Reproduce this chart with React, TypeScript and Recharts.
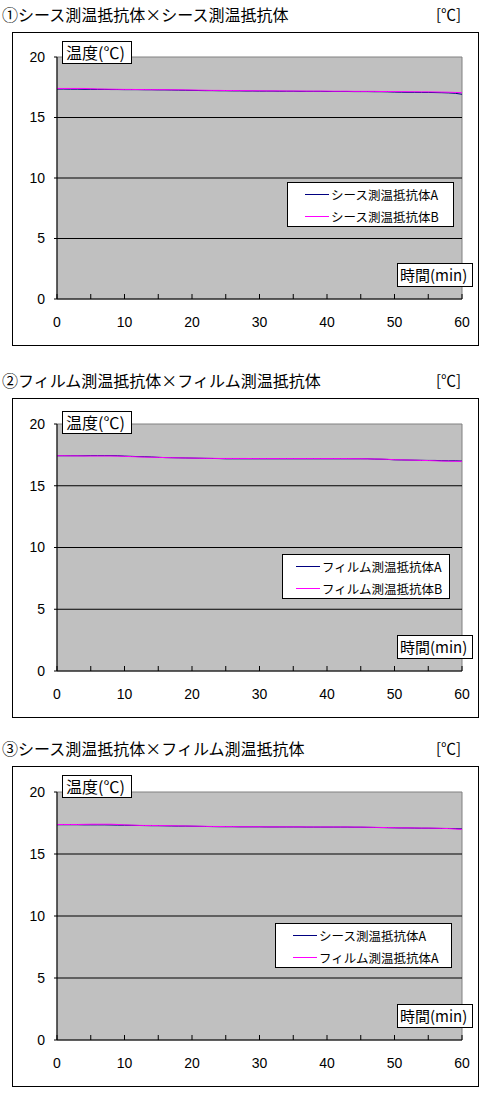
import { LineChart, Line, XAxis, YAxis, ReferenceArea, ReferenceLine } from 'recharts'

// minutes, one sample per minute
const minutes = Array.from({ length: 61 }, (_, i) => i)
const xTicks = [0, 5, 10, 15, 20, 25, 30, 35, 40, 45, 50, 55, 60]
const yTicks = [0, 5, 10, 15, 20]
const gridLevels = [5, 10, 15]

const sheathA1 = [
  17.35, 17.35, 17.34, 17.34, 17.33, 17.33, 17.32, 17.32, 17.31, 17.31,
  17.3, 17.3, 17.3, 17.29, 17.29, 17.28, 17.28, 17.27, 17.26, 17.25,
  17.24, 17.23, 17.22, 17.22, 17.21, 17.21, 17.2, 17.2, 17.19, 17.19,
  17.18, 17.18, 17.18, 17.17, 17.17, 17.17, 17.16, 17.16, 17.16, 17.16,
  17.15, 17.15, 17.15, 17.15, 17.14, 17.14, 17.14, 17.13, 17.13, 17.12,
  17.1, 17.09, 17.08, 17.08, 17.07, 17.07, 17.06, 17.05, 17.03, 17.0,
  16.92,
]
const sheathB1 = [
  17.4, 17.4, 17.4, 17.4, 17.4, 17.38, 17.36, 17.35, 17.34, 17.33,
  17.32, 17.32, 17.31, 17.31, 17.3, 17.3, 17.3, 17.29, 17.29, 17.28,
  17.27, 17.26, 17.25, 17.24, 17.24, 17.23, 17.23, 17.22, 17.22, 17.21,
  17.21, 17.2, 17.2, 17.2, 17.19, 17.19, 17.19, 17.18, 17.18, 17.18,
  17.18, 17.17, 17.17, 17.17, 17.16, 17.16, 17.16, 17.16, 17.15, 17.15,
  17.14, 17.14, 17.13, 17.13, 17.12, 17.12, 17.11, 17.1, 17.09, 17.07,
  17.05,
]
const filmA2 = [
  17.43, 17.43, 17.43, 17.43, 17.43, 17.44, 17.44, 17.44, 17.44, 17.43,
  17.4, 17.38, 17.36, 17.35, 17.33, 17.3, 17.28, 17.27, 17.26, 17.25,
  17.24, 17.23, 17.22, 17.21, 17.2, 17.18, 17.18, 17.18, 17.18, 17.18,
  17.18, 17.18, 17.18, 17.18, 17.18, 17.18, 17.18, 17.18, 17.18, 17.18,
  17.18, 17.18, 17.18, 17.18, 17.18, 17.18, 17.18, 17.16, 17.15, 17.13,
  17.1, 17.09, 17.08, 17.07, 17.06, 17.05, 17.05, 17.03, 17.02, 17.02,
  17.0,
]
const filmB2 = [
  17.43, 17.43, 17.42, 17.42, 17.41, 17.41, 17.41, 17.41, 17.41, 17.4,
  17.38, 17.36, 17.34, 17.32, 17.31, 17.3, 17.28, 17.27, 17.26, 17.25,
  17.24, 17.23, 17.22, 17.22, 17.21, 17.21, 17.21, 17.21, 17.21, 17.2,
  17.2, 17.2, 17.2, 17.2, 17.2, 17.2, 17.2, 17.2, 17.2, 17.2,
  17.2, 17.2, 17.2, 17.2, 17.19, 17.19, 17.18, 17.17, 17.16, 17.14,
  17.11, 17.1, 17.08, 17.07, 17.05, 17.04, 17.02, 17.0, 16.99, 16.98,
  16.98,
]
const sheathA3 = [
  17.36, 17.36, 17.36, 17.36, 17.35, 17.35, 17.35, 17.35, 17.34, 17.33,
  17.32, 17.31, 17.3, 17.29, 17.28, 17.28, 17.27, 17.26, 17.25, 17.25,
  17.24, 17.23, 17.22, 17.21, 17.2, 17.2, 17.2, 17.19, 17.19, 17.19,
  17.19, 17.18, 17.18, 17.18, 17.18, 17.18, 17.18, 17.17, 17.17, 17.17,
  17.17, 17.17, 17.17, 17.17, 17.16, 17.16, 17.15, 17.14, 17.13, 17.12,
  17.11, 17.1, 17.1, 17.09, 17.08, 17.08, 17.07, 17.06, 17.06, 17.05,
  17.02,
]
const filmA3 = [
  17.38, 17.38, 17.38, 17.38, 17.39, 17.4, 17.4, 17.4, 17.4, 17.38,
  17.35, 17.33, 17.31, 17.3, 17.3, 17.29, 17.29, 17.28, 17.27, 17.26,
  17.25, 17.24, 17.23, 17.22, 17.22, 17.21, 17.21, 17.2, 17.2, 17.2,
  17.2, 17.19, 17.19, 17.19, 17.19, 17.19, 17.19, 17.18, 17.18, 17.18,
  17.18, 17.18, 17.18, 17.18, 17.17, 17.17, 17.16, 17.15, 17.14, 17.13,
  17.12, 17.11, 17.11, 17.1, 17.09, 17.09, 17.08, 17.07, 17.05, 17.02,
  16.98,
]

const titles = [
  '①シース測温抵抗体×シース測温抵抗体',
  '②フィルム測温抵抗体×フィルム測温抵抗体',
  '③シース測温抵抗体×フィルム測温抵抗体',
]
const seriesNames = [
  ['シース測温抵抗体A', 'シース測温抵抗体B'],
  ['フィルム測温抵抗体A', 'フィルム測温抵抗体B'],
  ['シース測温抵抗体A', 'フィルム測温抵抗体A'],
]
const seriesValues = [
  [sheathA1, sheathB1],
  [filmA2, filmB2],
  [sheathA3, filmA3],
]
const colors = ['#000080', '#ff00ff']

// page layout, in page pixels
const layouts = [
  { boxTop: 32, boxH: 314, plotTop: 57, plotBottom: 299, yLabelTop: 41, legendLeft: 287, legendW: 167, lineLeft: 305 },
  { boxTop: 398, boxH: 320, plotTop: 424, plotBottom: 671, yLabelTop: 411, legendLeft: 282, legendW: 168, lineLeft: 296 },
  { boxTop: 766, boxH: 321, plotTop: 792, plotBottom: 1040, yLabelTop: 775, legendLeft: 275, legendW: 177, lineLeft: 293 },
]

const JP = '"Noto Sans CJK JP", sans-serif'
const NUM = '"Liberation Sans", Arial, sans-serif'

const XTick = (props: any) => {
  const { x, y, payload } = props
  return (
    <g>
      <line x1={x} x2={x} y1={y} y2={y - 5} stroke='#000' />
      {payload.value % 10 === 0 && (
        <text x={x} y={y + 28} textAnchor='middle' fontSize={14} fontFamily={NUM} fill='#000'>
          {payload.value}
        </text>
      )}
    </g>
  )
}

function Panel({ idx }: { idx: number }) {
  const l = layouts[idx]
  const data = minutes.map((t, i) => ({
    t,
    a: seriesValues[idx][0][i],
    b: seriesValues[idx][1][i],
  }))
  const innerTop = l.boxTop + 1
  const innerH = l.boxH - 2
  const xAxisH = 30
  const margin = {
    top: l.plotTop - innerTop,
    bottom: innerTop + innerH - l.plotBottom - xAxisH,
    left: 14,
    right: 16,
  }
  const box = (s: any) => ({
    position: 'absolute' as const,
    background: '#fff',
    border: '1px solid #000',
    boxSizing: 'border-box' as const,
    fontFamily: JP,
    ...s,
  })

  return (
    <>
      <div style={{ position: 'absolute', left: 2, top: l.boxTop - 29, fontSize: 16, lineHeight: '22px', fontFamily: JP, whiteSpace: 'nowrap' }}>
        {titles[idx]}
      </div>
      <div style={{ position: 'absolute', left: 436, top: l.boxTop - 29, fontSize: 15, lineHeight: '22px', fontFamily: JP }}>
        [℃]
      </div>
      <div style={{ position: 'absolute', left: 12, top: l.boxTop, width: 467, height: l.boxH, border: '1px solid #000', boxSizing: 'border-box' }}>
        <LineChart width={465} height={innerH} data={data} margin={margin}>
          <ReferenceArea x1={0} x2={60} y1={0} y2={20} fill='#c0c0c0' fillOpacity={1} stroke='#808080' />
          {gridLevels.map((v) => (
            <ReferenceLine key={v} y={v} stroke='#000' />
          ))}
          <XAxis
            dataKey='t'
            type='number'
            domain={[0, 60]}
            ticks={xTicks}
            height={xAxisH}
            axisLine={{ stroke: '#000' }}
            tickLine={false}
            tickSize={0}
            tickMargin={0}
            tick={<XTick />}
            interval={0}
          />
          <YAxis
            type='number'
            domain={[0, 20]}
            ticks={yTicks}
            width={30}
            axisLine={{ stroke: '#000' }}
            tickLine={{ stroke: '#000' }}
            tickSize={3}
            tickMargin={9}
            tick={{ fill: '#000', fontSize: 14, fontFamily: NUM }}
            interval={0}
          />
          <Line type='linear' dataKey='a' stroke={colors[0]} strokeWidth={1} dot={false} isAnimationActive={false} />
          <Line type='linear' dataKey='b' stroke={colors[1]} strokeWidth={1} dot={false} isAnimationActive={false} />
        </LineChart>
      </div>
      <div style={box({ left: 62, top: l.yLabelTop, width: 70, height: 23, fontSize: 16, lineHeight: '21px', paddingLeft: 3 })}>
        温度(℃)
      </div>
      <div style={box({ left: 397, top: l.plotBottom - 36, width: 76, height: 24, fontSize: 15, lineHeight: '22px', paddingLeft: 2, whiteSpace: 'nowrap' })}>
        時間(min)
      </div>
      <div style={box({ left: l.legendLeft, top: l.plotBottom - 117, width: l.legendW, height: 45 })}>
        {seriesNames[idx].map((name, i) => (
          <div key={name}>
            <div
              style={{
                position: 'absolute',
                left: l.lineLeft - l.legendLeft - 1,
                top: 11 + i * 22,
                width: 24,
                height: 1,
                background: colors[i],
              }}
            />
            <div
              style={{
                position: 'absolute',
                left: l.lineLeft - l.legendLeft + 25,
                top: 2 + i * 22,
                fontSize: 12.5,
                lineHeight: '20px',
                whiteSpace: 'nowrap',
              }}
            >
              {name}
            </div>
          </div>
        ))}
      </div>
    </>
  )
}

export default function App() {
  return (
    <div style={{ position: 'absolute', left: 0, top: 0, width: 480, height: 1096, background: '#fff', color: '#000' }}>
      {titles.map((_, i) => (
        <Panel key={i} idx={i} />
      ))}
    </div>
  )
}
